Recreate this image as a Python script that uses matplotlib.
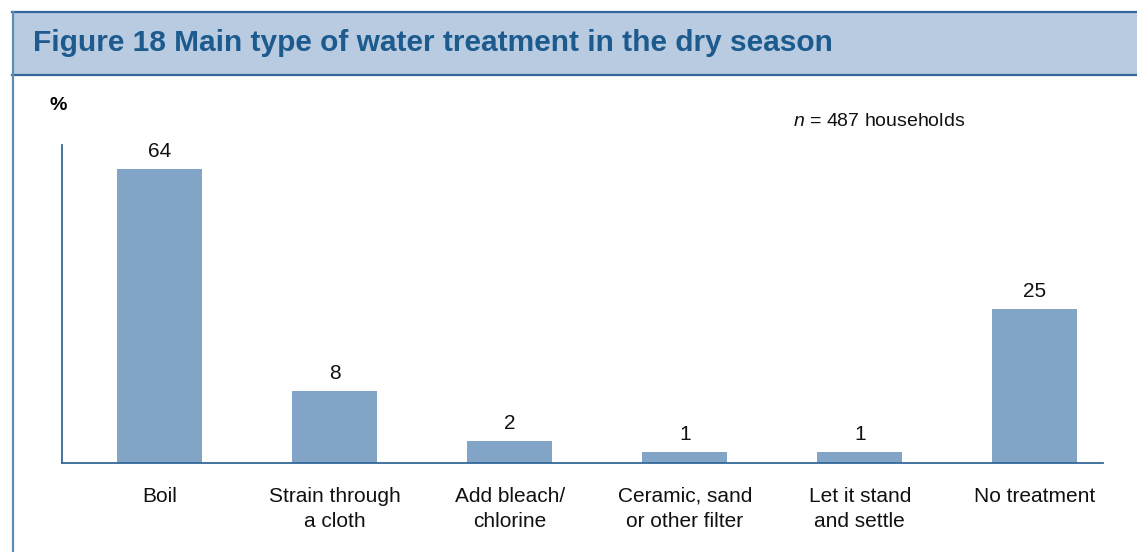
import matplotlib
matplotlib.use("Agg")
import matplotlib.pyplot as plt
from matplotlib.patches import Rectangle
from matplotlib.lines import Line2D

plt.rcParams['font.family'] = ['Liberation Sans', 'DejaVu Sans']
plt.rcParams['mathtext.fontset'] = 'custom'
plt.rcParams['mathtext.it'] = 'Liberation Sans:italic'
plt.rcParams['mathtext.rm'] = 'Liberation Sans'

# data
categories = ["Boil", "Strain through\na cloth", "Add bleach/\nchlorine",
              "Ceramic, sand\nor other filter", "Let it stand\nand settle", "No treatment"]
pct_labels = [64, 8, 2, 1, 1, 25]
# bar heights as drawn in the source (not proportional to the labels there)
bar_heights = [64, 15.7, 4.8, 2.4, 2.4, 33.5]

title = "Figure 18 Main type of water treatment in the dry season"
note = "$n$ = 487 households"

bar_col = "#82a4c7"
dark = "#1d5b8e"
line_col = "#33699a"

W, H = 1137, 552
fig = plt.figure(figsize=(W / 100, H / 100), dpi=100)

def fx(px):
    return px / W

def fy(py):
    return 1 - py / H

# banner
fig.patches.append(Rectangle((fx(12), fy(75)), fx(W - 12), (75 - 12) / H,
                             transform=fig.transFigure, facecolor="#b8cbe0",
                             edgecolor="none", zorder=0))
for yy in (12, 75):
    fig.lines.append(Line2D([fx(12), 1], [fy(yy), fy(yy)], transform=fig.transFigure,
                            color=line_col, lw=1.6))
fig.lines.append(Line2D([fx(12.5), fx(12.5)], [fy(12), 0], transform=fig.transFigure,
                        color="#5b8db5", lw=1.6))
fig.text(fx(33), fy(43), title, fontsize=21.5, fontweight="bold", color=dark,
         va="center", ha="left")

# axes
ax = fig.add_axes([fx(62), fy(463), fx(1103 - 62), (463 - 145) / H])
x = range(len(categories))
bars = ax.bar(x, bar_heights, width=0.486, color=bar_col, zorder=2)
for b, v in zip(bars, pct_labels):
    ax.annotate(str(v), (b.get_x() + b.get_width() / 2, b.get_height()),
                xytext=(0, 6), textcoords="offset points", ha="center", va="bottom",
                fontsize=15, color="#111111")

ax.set_xlim(-0.56, 5.39)
ax.set_ylim(0, 69.2)
ax.set_xticks(list(x))
ax.set_xticklabels(categories, fontsize=15, linespacing=1.42, color="#111111")
ax.tick_params(axis="x", length=0, pad=17)
ax.set_yticks([])
for s in ("top", "right"):
    ax.spines[s].set_visible(False)
for s in ("left", "bottom"):
    ax.spines[s].set_color(line_col)
    ax.spines[s].set_linewidth(1.3)

fig.text(fx(50), fy(106), "%", fontsize=14, fontweight="bold", va="center", ha="left")
fig.text(fx(793), fy(121), note, fontsize=14, va="center", ha="left", color="#111111")

fig.savefig("out.png", dpi=100)
